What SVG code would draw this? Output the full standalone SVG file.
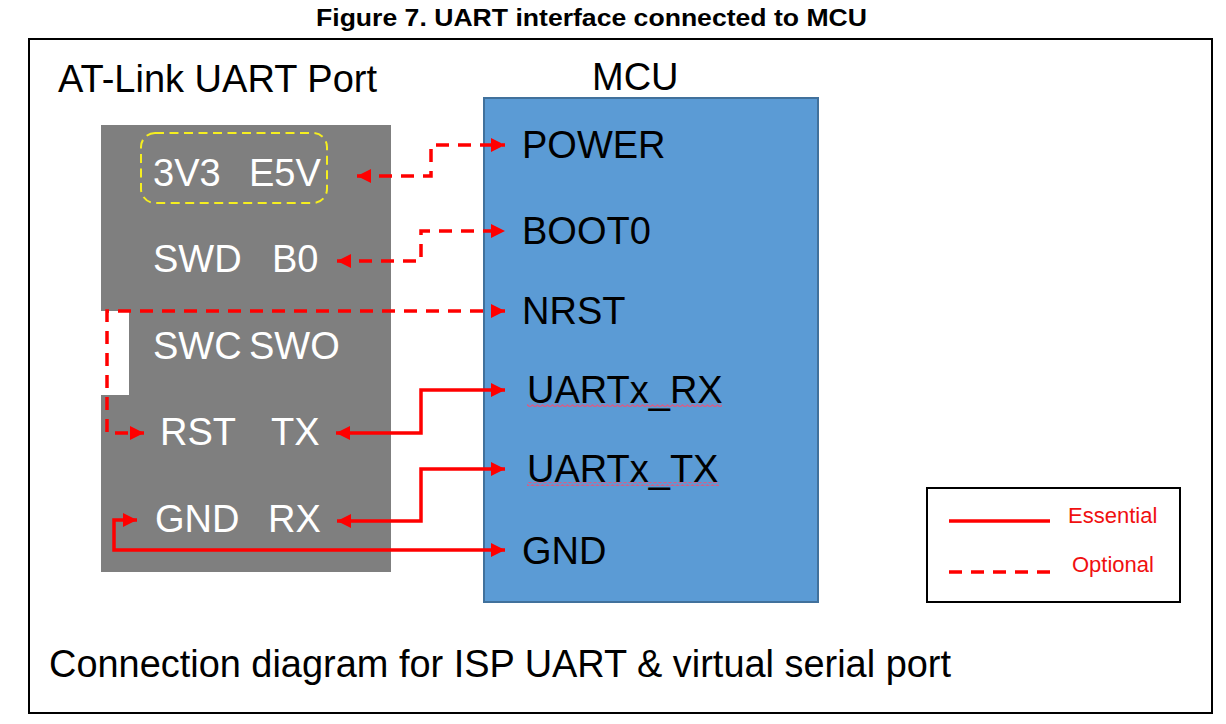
<svg xmlns="http://www.w3.org/2000/svg" width="1226" height="724" viewBox="0 0 1226 724">
<style>
text{font-family:"Liberation Sans",Arial,sans-serif}
.w{fill:#fff;font-size:38px}
.k{fill:#000;font-size:38px}
.h{fill:#000;font-size:38px}
.l{fill:#f01010;font-size:22px}
.c{fill:none;stroke:#f00;stroke-width:3.500}
.d{stroke-dasharray:13 9}
</style>
<defs>
<marker id="a" viewBox="0 0 14 14" refX="14" refY="7" markerWidth="14" markerHeight="14" markerUnits="userSpaceOnUse" orient="auto-start-reverse"><path d="M0 0L14 7L0 14Z" fill="#f00"/></marker>
<pattern id="wave" width="5" height="4" patternUnits="userSpaceOnUse"><path d="M0 3L2.500 1L5 3" fill="none" stroke="#d0608a" stroke-width="1.400"/></pattern>
</defs>
<rect width="1226" height="724" fill="#fff"/>
<text x="591.500" y="26" text-anchor="middle" font-size="24.500" font-weight="bold" textLength="551" lengthAdjust="spacingAndGlyphs">Figure 7. UART interface connected to MCU</text>
<rect id="frame" x="29" y="39" width="1183" height="674" fill="none" stroke="#000" stroke-width="2"/>
<text class="h" x="58" y="92" textLength="319" lengthAdjust="spacingAndGlyphs">AT-Link UART Port</text>
<text class="h" x="592" y="90">MCU</text>
<g id="atlink">
<path d="M101 125H391V572H101V395H129V311H101Z" fill="#7f7f7f"/>
<rect x="141" y="133" width="186" height="70" rx="14" fill="none" stroke="#f5ee20" stroke-width="2" stroke-dasharray="9 5.500"/>
<text class="w" x="153" y="186">3V3</text><text class="w" x="249" y="186">E5V</text>
<text class="w" x="153" y="272">SWD</text><text class="w" x="272" y="272">B0</text>
<text class="w" x="153" y="359">SWC</text><text class="w" x="249" y="359">SWO</text>
<text class="w" x="160" y="445">RST</text><text class="w" x="271" y="445">TX</text>
<text class="w" x="155" y="532">GND</text><text class="w" x="268" y="532">RX</text>
</g>
<g id="mcu">
<rect x="484" y="98" width="334" height="504" fill="#5b9bd5" stroke="#41719c" stroke-width="2"/>
<text class="k" x="522" y="158">POWER</text>
<text class="k" x="522" y="244">BOOT0</text>
<text class="k" x="522" y="324">NRST</text>
<text class="k" x="527" y="403">UARTx_RX</text>
<text class="k" x="527" y="482">UARTx_TX</text>
<text class="k" x="522" y="564">GND</text>
<rect x="527" y="403" width="195" height="4" fill="url(#wave)"/>
<rect x="527" y="482" width="192" height="4" fill="url(#wave)"/>
</g>
<g id="connectors">
<path class="c d" d="M357 176H431V145H505" marker-start="url(#a)" marker-end="url(#a)"/>
<path class="c d" d="M337 261H421V231H505" marker-start="url(#a)" marker-end="url(#a)"/>
<path class="c d" d="M505 311H107V433H144" marker-start="url(#a)" marker-end="url(#a)"/>
<path class="c" d="M336 433H421V390H505" marker-start="url(#a)" marker-end="url(#a)"/>
<path class="c" d="M337 521H421V469H505" marker-start="url(#a)" marker-end="url(#a)"/>
<path class="c" d="M137 520H114V550H505" marker-start="url(#a)" marker-end="url(#a)"/>
</g>
<g id="legend">
<rect x="927" y="488" width="253" height="114" fill="#fff" stroke="#000" stroke-width="2"/>
<path class="c" d="M949 521H1050"/>
<path class="c" d="M949 572H1051" stroke-dasharray="13 9"/>
<text class="l" x="1068" y="523">Essential</text>
<text class="l" x="1072" y="572">Optional</text>
</g>
<text class="h" x="49" y="677" textLength="902" lengthAdjust="spacingAndGlyphs">Connection diagram for ISP UART &amp; virtual serial port</text>
</svg>
